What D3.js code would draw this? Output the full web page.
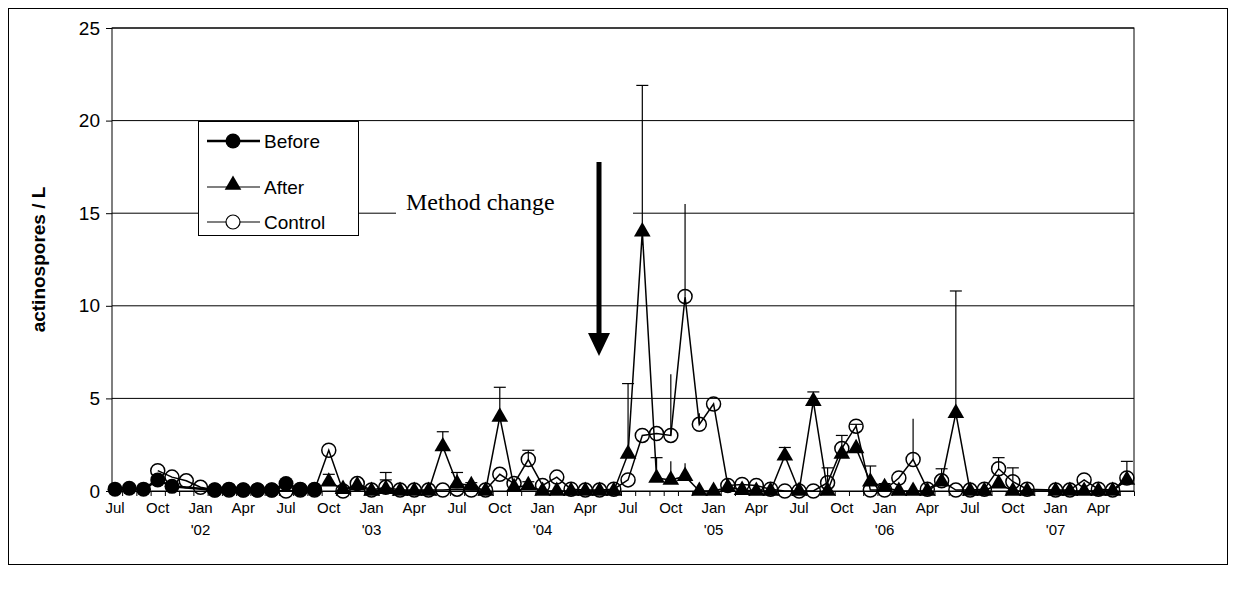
<!DOCTYPE html>
<html><head><meta charset="utf-8">
<script src="https://cdn.jsdelivr.net/npm/d3@7"></script>
<style>body{margin:0;background:#fff}</style>
</head><body><div id="chart"></div>
<script>
// monthly samples, index 0 = Jul 2001 ... 71 = Jun 2007
const monthNames = ['Jul','Oct','Jan','Apr'];
const yearLabels = ["'02","'03","'04","'05","'06","'07"];
const before = [0.1,0.15,0.1,0.6,0.25,null,null,0.05,0.1,0.05,0.05,0.05,0.4,0.1,0.1];
const after = [null,null,null,null,null,null,null,null,null,null,null,null,null,null,null,
  0.5,0.1,0.3,0,0.1,0,0,0,2.4,0.4,0.3,0,4.0,0.2,0.3,0,0,0,0,0,0,
  2.0,14.0,0.7,0.6,0.8,0,0,0.2,0.05,0,0,1.9,0,4.85,0,2.0,2.3,0.5,0.2,0,0,0,0.5,4.2,
  0,0,0.4,0,0,null,0,0,0,0,0,0.6];
const afterErr = [null,null,null,null,null,null,null,null,null,null,null,null,null,null,null,
  0.9,null,null,null,1.0,null,null,null,3.2,1.0,0.45,null,5.6,null,0.5,null,null,null,null,null,null,
  5.8,21.9,1.8,1.6,1.5,null,null,null,null,null,null,2.35,null,5.35,null,null,null,1.35,0.4,null,null,null,1.2,10.8,
  null,null,null,null,null,null,null,null,null,null,null,1.6];
const control = [null,null,null,1.1,0.75,0.55,0.2,0.05,0.05,0.05,0.05,0.05,0,0.05,0.05,
  2.2,0,0.4,0.05,0.2,0.05,0.05,0.05,0.05,0.1,0.05,0.05,0.9,0.4,1.7,0.3,0.75,0.1,0.05,0.05,0.1,
  0.6,3.0,3.1,3.0,10.5,3.6,4.7,0.3,0.35,0.3,0.1,0,0,0,0.45,2.3,3.5,0.05,0.05,0.7,1.7,0.1,0.55,0.05,
  0.05,0.1,1.2,0.5,0.1,null,0.05,0.05,0.6,0.1,0.05,0.7];
const controlErr = [];
controlErr[19]=0.6; controlErr[29]=2.2; controlErr[39]=6.3; controlErr[40]=15.5; controlErr[41]=4.2;
controlErr[50]=1.25; controlErr[51]=3.0; controlErr[52]=3.6; controlErr[56]=3.9; controlErr[62]=1.8; controlErr[63]=1.25;

const W = 1236, H = 594;
const svg = d3.select('#chart').append('svg').attr('width', W).attr('height', H)
  .style('font-family', 'Arial, Liberation Sans, sans-serif');
svg.append('rect').attr('x', 8.5).attr('y', 8.5).attr('width', 1219).attr('height', 556)
  .attr('fill', 'none').attr('stroke', '#000');

const pL = 112, pR = 1134, pT = 28, pB = 491;
const x = d3.scaleLinear().domain([-0.21, 71.5]).range([pL, pR]);
const y = d3.scaleLinear().domain([0, 25]).range([pB, pT]);

// gridlines
svg.append('g').selectAll('line').data(d3.range(5, 26, 5)).join('line')
  .attr('x1', pL).attr('x2', pR).attr('y1', d => y(d)).attr('y2', d => y(d))
  .attr('stroke', '#000').attr('stroke-width', 1);
svg.append('rect').attr('x', pL).attr('y', pT).attr('width', pR - pL).attr('height', pB - pT)
  .attr('fill', 'none').attr('stroke', '#000');

const yAxis = svg.append('g').attr('transform', `translate(${pL},0)`)
  .call(d3.axisLeft(y).tickValues(d3.range(0, 26, 5)).tickSize(6).tickPadding(6));
yAxis.select('.domain').remove();
yAxis.selectAll('text').style('font-size', '19px').attr('fill', '#000');

const xAxis = svg.append('g').attr('transform', `translate(0,${pB})`)
  .call(d3.axisBottom(x).tickValues(d3.range(0, 71).map(i => i + 0.5)).tickSize(5).tickFormat(''));
xAxis.select('.domain').attr('stroke', '#000');

svg.append('g').selectAll('text').data(d3.range(0, 70, 3)).join('text')
  .attr('x', d => x(d)).attr('y', 513).attr('text-anchor', 'middle')
  .style('font-size', '15px').text(d => monthNames[(d / 3) % 4]);
svg.append('g').selectAll('text').data(yearLabels).join('text')
  .attr('x', (d, i) => x(6 + 12 * i)).attr('y', 535).attr('text-anchor', 'middle')
  .style('font-size', '15px').text(d => d);

svg.append('text').attr('transform', `translate(45,${(pT + pB) / 2}) rotate(-90)`)
  .attr('text-anchor', 'middle').style('font-size', '19px').style('font-weight', 'bold')
  .text('actinospores / L');

// method change annotation
svg.append('rect').attr('x', 396).attr('y', 186).attr('width', 237).attr('height', 46).attr('fill', '#fff');
svg.append('text').attr('x', 406).attr('y', 210).style('font-family', 'Times New Roman, Liberation Serif, serif')
  .style('font-size', '24px').text('Method change');
svg.append('line').attr('x1', 599).attr('x2', 599).attr('y1', 162).attr('y2', 336)
  .attr('stroke', '#000').attr('stroke-width', 5);
svg.append('path').attr('d', 'M588,333 L610,333 L599,356 Z').attr('fill', '#000');

const line = d3.line().defined(d => d.v != null).x(d => x(d.i)).y(d => y(d.v));
const pts = arr => arr.map((v, i) => ({i, v})).filter(d => d.v != null);

function errBars(vals, errs) {
  const data = vals.map((v, i) => ({i, v, e: errs[i]})).filter(d => d.v != null && d.e != null);
  const g = svg.append('g').attr('stroke', '#000').attr('stroke-width', 1.2);
  g.selectAll('.v').data(data).join('line').attr('x1', d => x(d.i)).attr('x2', d => x(d.i))
    .attr('y1', d => y(d.v)).attr('y2', d => y(d.e));
  g.selectAll('.c').data(data.filter(d => d.i != 39 && d.i != 40 && d.i != 41 && d.i != 56))
    .join('line').attr('x1', d => x(d.i) - 6).attr('x2', d => x(d.i) + 6)
    .attr('y1', d => y(d.e)).attr('y2', d => y(d.e));
}
errBars(after, afterErr);
errBars(control, controlErr);

const tri = d3.symbol().type(d3.symbolTriangle).size(120);

// control series
svg.append('path').datum(pts(control)).attr('d', line).attr('fill', 'none').attr('stroke', '#000').attr('stroke-width', 1.5);
svg.append('g').selectAll('circle').data(pts(control)).join('circle')
  .attr('cx', d => x(d.i)).attr('cy', d => y(d.v)).attr('r', 7)
  .attr('fill', 'none').attr('stroke', '#000').attr('stroke-width', 1.5);
// after series
svg.append('path').datum(pts(after)).attr('d', line).attr('fill', 'none').attr('stroke', '#000').attr('stroke-width', 1.5);
svg.append('g').selectAll('path').data(pts(after)).join('path')
  .attr('d', tri).attr('transform', d => `translate(${x(d.i)},${y(d.v)})`).attr('fill', '#000');
// before series
svg.append('path').datum(pts(before)).attr('d', line).attr('fill', 'none').attr('stroke', '#000').attr('stroke-width', 2.5);
svg.append('g').selectAll('circle').data(pts(before)).join('circle')
  .attr('cx', d => x(d.i)).attr('cy', d => y(d.v)).attr('r', 7.5).attr('fill', '#000');

// legend
const lg = svg.append('g');
lg.append('rect').attr('x', 198.5).attr('y', 121.5).attr('width', 160).attr('height', 114)
  .attr('fill', '#fff').attr('stroke', '#000');
const items = ['Before', 'After', 'Control'];
const legendY = [141, 187, 222];
items.forEach((name, k) => {
  const ly = legendY[k];
  lg.append('line').attr('x1', 207).attr('x2', 260).attr('y1', ly).attr('y2', ly)
    .attr('stroke', '#000').attr('stroke-width', k === 0 ? 2.5 : 1.2);
  if (k === 0) lg.append('circle').attr('cx', 233).attr('cy', ly).attr('r', 7.5).attr('fill', '#000');
  if (k === 1) lg.append('path').attr('d', tri).attr('transform', `translate(233,${ly - 2})`).attr('fill', '#000');
  if (k === 2) lg.append('circle').attr('cx', 233).attr('cy', ly).attr('r', 7).attr('fill', '#fff').attr('stroke', '#000').attr('stroke-width', 1.2);
  lg.append('text').attr('x', 264).attr('y', ly + 7).style('font-size', '19px').text(name);
});
</script></body></html>
